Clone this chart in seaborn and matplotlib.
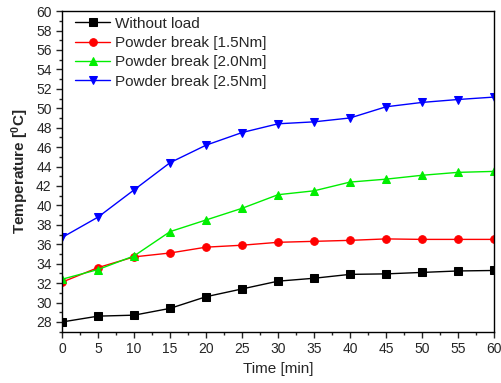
import numpy as np
import pandas as pd
import matplotlib
matplotlib.use("Agg")
import matplotlib.pyplot as plt
import seaborn as sns
from matplotlib.ticker import MultipleLocator

time_min = [0, 5, 10, 15, 20, 25, 30, 35, 40, 45, 50, 55, 60]
without_load = [28.0, 28.6, 28.7, 29.4, 30.6, 31.4, 32.2, 32.5, 32.9, 32.95, 33.1, 33.25, 33.3]
break_15 = [32.1, 33.6, 34.7, 35.1, 35.7, 35.9, 36.2, 36.3, 36.4, 36.55, 36.5, 36.5, 36.5]
break_20 = [32.4, 33.4, 34.8, 37.3, 38.5, 39.7, 41.1, 41.5, 42.4, 42.7, 43.1, 43.4, 43.5]
break_25 = [36.7, 38.8, 41.6, 44.4, 46.2, 47.5, 48.4, 48.6, 49.0, 50.15, 50.6, 50.9, 51.15]

series = [
    ("Without load", without_load, "black", "s"),
    ("Powder break [1.5Nm]", break_15, "red", "o"),
    ("Powder break [2.0Nm]", break_20, "#00ee00", "^"),
    ("Powder break [2.5Nm]", break_25, "blue", "v"),
]

sns.set_style("ticks")
plt.rcParams['font.family'] = ['Liberation Sans', 'DejaVu Sans']

fig = plt.figure(figsize=(5.01, 3.83), dpi=100)
ax = fig.add_axes([0.124, 0.134, 0.862, 0.837])

for label, vals, color, marker in series:
    df = pd.DataFrame({"time": time_min, "temp": vals})
    sns.lineplot(data=df, x="time", y="temp", ax=ax, color=color, marker=marker,
                 markersize=5.5, markeredgecolor=color, linewidth=1, label=label)

ax.set_xlim(0, 60)
ax.set_ylim(27, 60)
ax.xaxis.set_major_locator(MultipleLocator(5))
ax.xaxis.set_minor_locator(MultipleLocator(2.5))
ax.yaxis.set_minor_locator(MultipleLocator(1))
ax.set_yticks([v for v in range(28, 61, 2)])
ax.tick_params(which='major', direction='out', length=4, width=1, labelsize=10, top=False, right=False)
ax.tick_params(which='minor', direction='out', length=2.5, width=1, top=False, right=False)
for s in ax.spines.values():
    s.set_linewidth(1)
    s.set_color("black")

ax.set_xlabel("Time [min]", fontsize=11)
ax.set_ylabel("Temperature [$\\mathregular{^0}$C]", fontsize=11, fontweight="bold")

ax.legend(loc="upper left", bbox_to_anchor=(0.025, 0.99), frameon=False, fontsize=11,
          handlelength=2.3, borderpad=0.15, borderaxespad=0, labelspacing=0.35,
          handletextpad=0.3)

fig.savefig("out.png", dpi=100)
